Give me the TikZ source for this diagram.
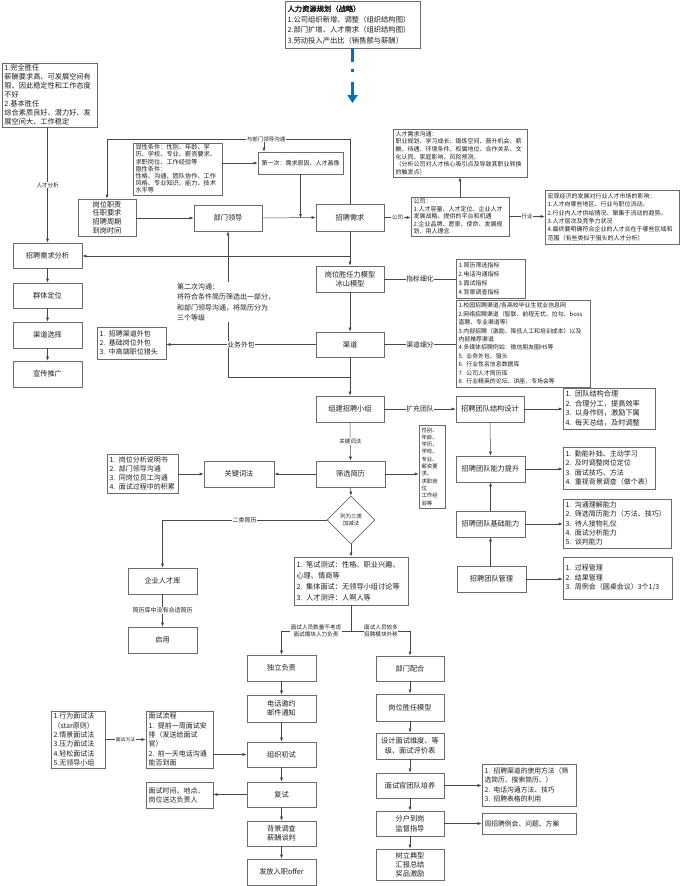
\documentclass[tikz,border=0pt]{standalone}
\usepackage{fontspec}
\setmainfont{Noto Sans CJK SC}[AutoFakeBold=2.5]
\usetikzlibrary{arrows.meta,shapes.geometric}
\definecolor{boxc}{gray}{0.42}
\definecolor{linec}{gray}{0.28}
\definecolor{txtc}{gray}{0.12}
\definecolor{blueA}{RGB}{0,112,192}
\newcommand{\fz}[2]{\fontsize{#1}{#2}\selectfont}
\tikzset{
  bx/.style={draw=boxc, line width=0.6pt, inner sep=0pt, align=center, text=txtc, font=\fz{7.2}{9}},
  lft/.style={text width=\mybtw pt, align=left},
  ln/.style={draw=linec, line width=0.5pt},
  ar/.style={ln, -{Latex[length=4pt,width=3pt]}},
  lab/.style={fill=white, inner sep=0.6pt, text=txtc, font=\fz{5.5}{6.8}, align=center},
  lab7/.style={lab, font=\fz{6.8}{8}},
}
\newcommand{\bxn}[7]{%
  \pgfmathsetmacro{\mybw}{#4-#2}\pgfmathsetmacro{\mybh}{#5-#3}%
  \pgfmathsetmacro{\mybcx}{(#2+#4)/2}\pgfmathsetmacro{\mybcy}{(#3+#5)/2}%
  \pgfmathsetmacro{\mybtw}{#4-#2-5}%
  \node[bx,minimum width=\mybw pt,minimum height=\mybh pt,#6] (#1) at (\mybcx,\mybcy) {#7};}
\begin{document}
\begin{tikzpicture}[x=1pt,y=-1pt]
\fill[white] (0,0) rectangle (680,886);
\useasboundingbox (0,0) rectangle (680,886);

% ---------- top ----------
\bxn{hr}{285}{1}{420}{48}{lft,font=\fz{7.3}{10.5}}{\textbf{人力资源规划（战略）}\\1.公司组织新增、调整（组织结构图）\\2.部门扩增、人才需求（组织结构图）\\3.劳动投入产出比（销售额与薪酬）}
\coordinate (bluend) at (352.5,103);
\draw[blueA, line width=2.6pt, dash pattern=on 14pt off 7pt on 3pt off 10pt, -{Triangle[length=8pt,width=10pt]}] (hr.south) -- (bluend);

\bxn{ltop}{2}{63}{97}{127}{lft,font=\fz{7.2}{9}}{1.完全胜任\\薪酬要求高、可发展空间有\\限、因此稳定性和工作态度\\不好\\2.基本胜任\\综合素质良好、潜力好、发\\展空间大、工作稳定}
\bxn{xian}{133}{143}{222}{195}{lft,font=\fz{6.2}{7.2}}{显性条件：性别、年龄、学\\历、学校、专业、薪资要求、\\求职岗位、工作经验等\\隐性条件：\\性格、沟通、团队协作、工作\\风格、专业知识、能力、技术\\水平等}
\bxn{gwzz}{78}{199}{136}{236}{font=\fz{7.2}{8.6}}{岗位职责\\任职要求\\招聘周期\\到岗时间}
\bxn{bmld}{194}{205}{262}{231}{}{部门领导}
\bxn{dyc}{258}{152}{343}{174}{font=\fz{6}{7}}{第一次：需求原因、人才画像}
\bxn{zpxq}{316}{204}{384}{231}{}{招聘需求}
\bxn{gs}{411}{197}{509}{236}{lft,font=\fz{6}{7.4}}{公司：\\1.人才容量、人才定位、企业人才\\发展战略、提供的平台和机遇\\2.企业品牌、愿景、使命、发展规\\划、用人理念}
\bxn{rcxq}{393}{129}{527}{177}{lft,font=\fz{6}{7.6}}{人才需求沟通：\\职业规划、学习成长、锻炼空间、晋升机会、薪\\酬、待遇、环境条件、权属地位、合作关系、文\\化认同、家庭影响、风险预测。\\（分析公司对人才核心吸引点及导致其职业转换\\的触发点）}
\bxn{hg}{545}{190}{679}{244}{lft,font=\fz{6}{8.4}}{宏观经济的发展对行业人才市场的影响：\\1.人才向哪些地区、行业与职位流动。\\2.行业内人才供给情况、聚集于流动的趋势。\\3.人才层次及竞争力状况\\4.最终要明确符合企业的人才合在于哪些区域和\\范围（有些类似于猎头的人才分析）}

% ---------- left column ----------
\bxn{xqfx}{13}{243}{82}{268}{}{招聘需求分析}
\bxn{qtdw}{13}{283}{82}{308}{}{群体定位}
\bxn{qdxz}{13}{322}{82}{348}{}{渠道选择}
\bxn{xctg}{13}{361}{82}{387}{}{宣传推广}

% ---------- middle ----------
\bxn{srl}{316}{266}{384}{292}{font=\fz{7.2}{9.5}}{岗位胜任力模型\\冰山模型}
\bxn{zb}{456}{259}{525}{298}{lft,font=\fz{6}{9}}{1.简历筛选指标\\2.电话沟通指标\\3.面试指标\\4.背景调查指标}
\bxn{qd}{316}{332}{384}{357}{}{渠道}
\bxn{qdxf}{456}{300}{590}{387}{lft,font=\fz{5.9}{8.4}}{1.校园招聘渠道/各高校毕业生就业信息网\\2.网络招聘渠道（智联、前程无忧、拉勾、boss\\直聘、专业渠道等）\\3.内部招聘（激励、降低人工和培训成本）以及\\内部推荐渠道\\4.多媒体招聘例如：微信朋友圈H5等\\5. 业务外包、猎头\\6. 行业性名信息数据库\\7. 公司人才简历库\\8. 行业精英的论坛、讲座、专场会等}
\bxn{wb}{97}{327}{166}{359}{lft,font=\fz{7}{9.3}}{1. 招聘渠道外包\\2. 基础岗位外包\\3. 中高端职位猎头}
\bxn{zj}{316}{396}{384}{422}{}{组建招聘小组}
\bxn{jgsj}{456}{396}{524}{422}{}{招聘团队结构设计}
\bxn{jgb}{563}{388}{655}{429}{lft,font=\fz{7.2}{9.5}}{1. 团队结构合理\\2. 合理分工，提高效率\\3. 以身作则，激励下属\\4. 每天总结，及时调整}
\bxn{nlts}{456}{456}{525}{482}{}{招聘团队能力提升}
\bxn{ntb}{563}{447}{655}{489}{lft,font=\fz{7}{9.5}}{1. 勤能补拙、主动学习\\2. 及时调整岗位定位\\3. 面试技巧、方法\\4. 重视背景调查（做个表）}
\bxn{jcnl}{456}{511}{525}{537}{}{招聘团队基础能力}
\bxn{jcb}{563}{499}{671}{548}{lft,font=\fz{7}{9.2}}{1. 沟通理解能力\\2. 筛选简历能力（方法、技巧）\\3. 待人接物礼仪\\4. 面试分析能力\\5. 谈判能力}
\bxn{gl}{457}{566}{526}{592}{}{招聘团队管理}
\bxn{glb}{563}{557}{672}{599}{lft,font=\fz{7}{9.5}}{1. 过程管理\\2. 结果管理\\3. 周例会（圆桌会议）3个1/3}

\bxn{sx}{316}{461}{385}{487}{}{筛选简历}
\bxn{gjc}{204}{461}{274}{487}{}{关键词法}
\bxn{gwfx}{107}{454}{178}{493}{lft,font=\fz{7}{9}}{1. 岗位分析说明书\\2. 部门领导沟通\\3. 同岗位员工沟通\\4. 面试过程中的积累}
\bxn{nar}{419}{425}{445}{508}{lft,font=\fz{5.4}{7.3}}{性别、\\年龄、\\学历、\\学校、\\专业、\\薪资要\\求、\\求职岗\\位\\工作经\\验等}
\node[draw=boxc, line width=0.6pt, diamond, aspect=1, minimum width=48pt, minimum height=48pt, inner sep=0pt, font=\fz{5.5}{7.5}, text=txtc, align=center] (dm) at (351,520) {列为三类\\加减法};
\bxn{rck}{128}{568}{197}{594}{}{企业人才库}
\bxn{qy}{128}{627}{197}{653}{}{启用}
\bxn{bs}{294}{557}{408}{605}{lft,font=\fz{7.2}{11}}{1. 笔试测试：性格、职业兴趣、\\心理、情商等\\2. 集体面试：无领导小组讨论等\\3. 人才测评：人啊人等}

% ---------- bottom columns ----------
\bxn{dlfz}{247}{655}{316}{681}{}{独立负责}
\bxn{dhyy}{247}{695}{316}{722}{font=\fz{7.2}{9.5}}{电话邀约\\邮件通知}
\bxn{zzcs}{247}{742}{316}{767}{}{组织初试}
\bxn{fs}{247}{782}{316}{807}{}{复试}
\bxn{bjdc}{247}{821}{316}{846}{font=\fz{7.2}{9.5}}{背景调查\\薪酬谈判}
\bxn{offer}{247}{859}{316}{885}{}{发放入职offer}
\bxn{bmph}{376}{656}{444}{681}{}{部门配合}
\bxn{gwsr}{376}{694}{444}{721}{}{岗位胜任模型}
\bxn{sjms}{376}{733}{444}{759}{font=\fz{7.2}{9.5}}{设计面试维度、等\\级、面试评价表}
\bxn{msg}{376}{773}{444}{798}{}{面试官团队培养}
\bxn{fhdg}{376}{811}{444}{836}{font=\fz{7.2}{9.5}}{分户到岗\\监督指导}
\bxn{slzd}{376}{849}{444}{880}{font=\fz{7.2}{9}}{树立典型\\汇报总结\\奖品激励}
\bxn{pyb}{482}{764}{576}{806}{lft,font=\fz{6.8}{9.5}}{1. 招聘渠道的使用方法（筛\\选简历、搜索简历、）\\2. 电话沟通方法、技巧\\3. 招聘表格的利用}
\bxn{zlh}{482}{813}{576}{834}{lft,font=\fz{6.8}{9}}{周招聘例会、问题、方案}
\bxn{mffb}{51}{711}{105}{768}{lft,font=\fz{7}{9.3}}{1.行为面试法\\（star原则）\\2.情景面试法\\3.压力面试法\\4.轻松面试法\\5.无领导小组}
\bxn{mslc}{146}{711}{213}{768}{lft,font=\fz{7}{9.3}}{面试流程\\1. 提前一周面试安\\排（发送给面试\\官）\\2. 前一天电话沟通\\能否到面}
\bxn{mssj}{146}{782}{213}{808}{lft,font=\fz{7}{9.3}}{面试时间、地点、\\岗位送达负责人}

% ---------- connectors: top ----------
\coordinate (c1) at (350,139);
\coordinate (c2) at (107,139);
\coordinate (c3) at (264,139);
\draw[ar] (zpxq.north) -- (c1) -- (c2) -- (gwzz.north);
\draw[ar] (c3) -- (c3 |- dyc.north);
\node[lab] at (266,139) {与部门领导沟通};
\draw[ar] (xian.east |- dyc.west) -- (dyc.west);
\draw[ar] (gwzz.east |- bmld.west) -- (bmld.west);
\draw[ar] (bmld.east) -- (zpxq.west);
\draw[ar] (dyc.south) -- (dyc.south |- bmld.east);
\draw[ar] (zpxq.east) -- node[lab]{公司} (gs.west |- zpxq.east);
\draw[ar] (rcxq.south |- gs.north) -- (rcxq.south);
\draw[ar] (gs.east) -- node[lab]{行业} (hg.west |- gs.east);

% left column
\draw[ar] (xqfx.north |- ltop.south) -- node[lab]{人才分析} (xqfx.north);
\draw[ar] (xqfx.south) -- (qtdw.north);
\draw[ar] (qtdw.south) -- (qdxz.north);
\draw[ar] (qdxz.south) -- (xctg.north);

% middle spine
\coordinate (j1) at (350,256);
\coordinate (j2) at (350,377);
\coordinate (j3) at (228,377);
\draw[ar] (zpxq.south) -- (srl.north);
\draw[ar] (j1) -- (xqfx.east |- j1);
\draw[ar] (srl.south) -- (qd.north);
\draw[ar] (qd.south) -- (zj.north);
\draw[ar] (j2) -- (j3) -- (bmld.south);
\draw[ar] (qd.west) -- node[lab7]{业务外包} (wb.east |- qd.west);
\node[fill=white, inner sep=1pt, anchor=north west, align=left, text=txtc, font=\fz{7}{10.5}] (dec) at (176,282) {第二次沟通：\\将符合条件简历筛选出一部分，\\和部门领导沟通，将简历分为\\三个等级};
\draw[ln] (srl.east) -- node[lab7]{指标细化} (zb.west |- srl.east);
\draw[ln] (qd.east) -- node[lab7]{渠道细分} (qdxf.west |- qd.east);
\draw[ar] (zj.east) -- node[lab7]{扩充团队} (jgsj.west);

% team
\draw[ar] (jgsj.east) -- (jgb.west |- jgsj.east);
\draw[ar] (jgsj.south) -- (nlts.north);
\draw[ar] (nlts.east) -- (ntb.west |- nlts.east);
\draw[ar] (jcnl.north) -- (nlts.south);
\draw[ar] (jcnl.east) -- (jcb.west |- jcnl.east);
\draw[ar] (jcnl.south |- gl.north) -- (jcnl.south);
\draw[ar] (gl.east) -- (glb.west |- gl.east);

% screening
\draw[ar] (zj.south) -- node[lab]{关键词法} (sx.north);
\draw[ar] (sx.west) -- (gjc.east);
\draw[ar] (gwfx.east |- gjc.west) -- (gjc.west);
\draw[ar] (sx.east) -- (nar.west |- sx.east);
\draw[ar] (sx.south) -- (dm.north);
\draw[ar] (dm.west) -- (rck.north |- dm.west) -- (rck.north);
\path (dm.west) -- node[lab,font=\fz{6}{7}]{二类简历} (rck.north |- dm.west);
\draw[ar] (rck.south) -- node[lab,font=\fz{6}{7}]{简历库中没有合适简历} (qy.north);
\draw[ar] (dm.south) -- (bs.north);

% split
\coordinate (b1) at (351,631);
\coordinate (b2) at (281.5,631);
\coordinate (b3) at (410,631);
\draw[ln] (bs.south) -- (b1);
\draw[ar] (b1) -- (b2) -- (dlfz.north);
\draw[ar] (b1) -- (b3) -- (bmph.north);
\node[lab, font=\fz{5.6}{7}] at (316,631) {面试人员数量不考虑\\面试模块人力负责};
\node[lab, font=\fz{5.6}{7}] at (381,631) {面试人员较多\\招聘模块外移};

% chains
\draw[ar] (dlfz.south) -- (dhyy.north);
\draw[ar] (dhyy.south) -- (zzcs.north);
\draw[ar] (zzcs.south) -- (fs.north);
\draw[ar] (fs.south) -- (bjdc.north);
\draw[ar] (bjdc.south) -- (offer.north);
\draw[ar] (bmph.south) -- (gwsr.north);
\draw[ar] (gwsr.south) -- (sjms.north);
\draw[ar] (sjms.south) -- (msg.north);
\draw[ar] (msg.south) -- (fhdg.north);
\draw[ar] (fhdg.south) -- (slzd.north);
\draw[ar] (mffb.east) -- node[lab,font=\fz{4.8}{6}]{面试方法} (mslc.west);
\draw[ar] (mslc.east |- zzcs.west) -- (zzcs.west);
\draw[ar] (fs.west) -- (mssj.east |- fs.west);
\draw[ar] (msg.east) -- (pyb.west |- msg.east);
\draw[ar] (fhdg.east) -- (zlh.west |- fhdg.east);
\end{tikzpicture}
\end{document}
